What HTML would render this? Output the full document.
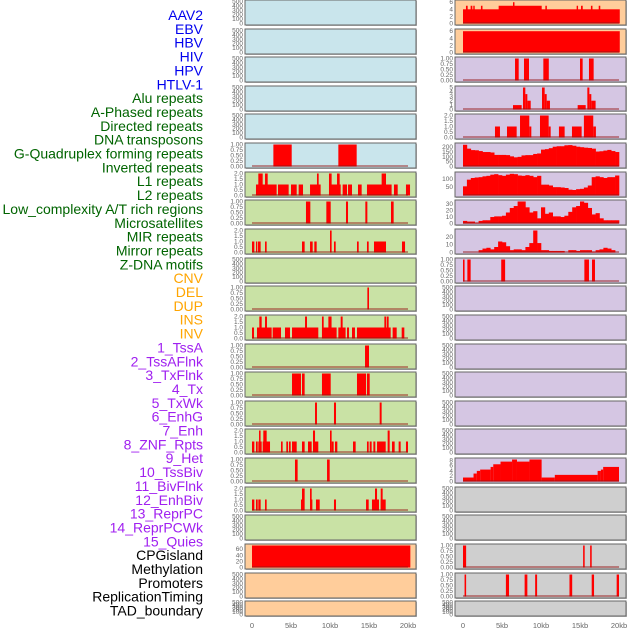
<!DOCTYPE html>
<html><head><meta charset="utf-8"><style>
body{margin:0;background:#fff}
svg{display:block;font-family:"Liberation Sans",sans-serif}
</style></head><body>
<svg id="chart" width="630" height="630" viewBox="0 0 630 630"></svg>
<script>
const trackLabels=["AAV2","EBV","HBV","HIV","HPV","HTLV-1","Alu repeats","A-Phased repeats","Directed repeats","DNA transposons","G-Quadruplex forming repeats","Inverted repeats","L1 repeats","L2 repeats","Low_complexity A/T rich regions","Microsatellites","MIR repeats","Mirror repeats","Z-DNA motifs","CNV","DEL","DUP","INS","INV","1_TssA","2_TssAFlnk","3_TxFlnk","4_Tx","5_TxWk","6_EnhG","7_Enh","8_ZNF_Rpts","9_Het","10_TssBiv","11_BivFlnk","12_EnhBiv","13_ReprPC","14_ReprPCWk","15_Quies","CPGisland","Methylation","Promoters","ReplicationTiming","TAD_boundary"];
const labelGroups=[6,13,5,15,5];
const xTickValues=[0,5,10,15,20];
const xTickLabels=["0","5kb","10kb","15kb","20kb"];

// interval data: [startKb, endKb, value]
const leftR5=[[2.74,5.09,1],[11.07,13.42,1]];
const leftR6=[[0.51,3.16,1],[0.81,1.37,2],[1.67,2.01,2],[3.33,4.7,1],[5.0,5.73,1],[5.98,6.54,1],[7.44,8.8,1],[8.33,8.55,2],[9.87,11.37,1],[9.87,10.21,2],[10.9,11.24,2],[11.62,12.18,1],[12.31,12.82,1],[13.59,14.06,1],[14.74,17.9,1],[16.62,17.18,2],[18.2,18.68,1],[19.74,20.26,1]];
const leftR7=[[6.92,7.48,1],[9.53,10.09,1],[12.05,12.31,1],[14.53,14.79,1],[17.82,18.16,1]];
const leftR8=[[0,0.3,1],[0.51,0.68,1],[0.77,1.11,1],[1.67,1.88,1],[6.41,6.75,1],[7.44,7.78,1],[7.99,8.29,1],[10.0,10.21,2],[10.51,10.73,1],[13.46,13.68,1],[14.74,14.96,1],[15.64,17.18,1],[19.23,19.62,1]];
const leftR10=[[14.79,15.0,1]];
const leftR11=[[0,0.26,1],[0.64,2.52,1],[0.94,1.24,2],[1.67,1.92,2],[2.65,3.72,1],[4.23,4.87,1],[5.13,8.5,1],[6.8,7.05,2],[8.97,10.85,1],[8.97,9.19,2],[9.79,10.2,2],[11.07,12.0,1],[11.37,11.62,2],[12.18,12.44,1],[12.82,13.2,1],[13.46,17.78,1],[16.97,17.18,2],[17.26,17.52,2],[18.03,18.55,1],[19.19,19.53,1]];
const leftR12=[[14.49,15.0,1]];
const leftR13=[[5.13,6.28,1],[6.41,6.75,1],[8.97,10.09,1],[13.46,14.62,1],[14.74,15.09,1]];
const leftR14=[[8.08,8.33,1],[10.51,10.77,1],[16.37,16.62,1]];
const leftR15=[[0,0.3,1],[0.51,0.73,1],[0.81,1.24,1],[1.37,2.31,1],[0.9,1.1,2],[1.45,1.88,2],[3.72,3.93,1],[4.4,4.62,1],[4.74,4.96,1],[5.13,5.73,1],[6.41,6.75,1],[7.18,7.65,1],[7.82,8.5,1],[7.82,8.08,2],[10.0,10.21,2],[10.21,10.47,1],[10.64,10.94,1],[12.95,13.29,1],[14.74,14.96,1],[15.09,15.34,1],[15.56,15.81,1],[16.03,17.14,1],[17.39,17.65,2],[17.95,18.29,1],[18.8,19.06,1],[19.74,20.0,1]];
const leftR16=[[5.51,5.85,1],[9.62,9.96,1]];
const leftR17=[[0,0.3,1],[0.51,0.73,1],[0.81,1.11,1],[1.67,1.88,1],[6.28,6.54,1],[6.41,6.75,2],[7.44,7.74,1],[7.44,7.65,2],[8.2,8.68,1],[10.51,10.77,1],[14.62,14.96,1],[15.38,16.28,1],[15.77,16.03,2],[16.5,17.14,1],[16.5,16.75,2]];
const leftR19=[[0,20.3,72]];
const rightR0=[[0,20.1,4],[4.57,10.09,5],[0.38,0.6,5],[0.98,1.2,5],[1.32,1.5,5],[2.3,2.5,5],[6.41,6.6,6],[10.56,10.75,5],[14.57,14.75,5],[15.13,15.35,5],[16.4,16.6,5],[17.4,17.6,5]];
const rightR1=[[0,20.1,6]];
const rightR2=[[6.67,7.14,1],[7.82,8.46,1],[10.3,11.0,1],[15.0,15.34,1],[16.15,16.75,1]];
const rightR3=[[6.41,7.52,1],[7.69,7.99,5],[7.99,8.25,3.5],[8.25,8.68,2],[10.13,10.47,5],[10.47,10.73,3.5],[10.73,11.15,2],[14.7,15.73,1],[15.94,16.2,5],[16.2,16.45,3.5],[16.45,17.0,2]];
const rightR4=[[4.1,4.74,1],[5.64,6.88,1],[7.31,8.5,2],[8.5,8.76,1],[9.87,10.98,2],[10.98,11.24,1],[12.3,13.03,1],[13.97,15.21,1],[15.5,16.7,2],[16.7,17.04,1]];
const rightR9=[[0,0.2,1],[0.56,0.98,1],[4.9,5.4,1],[15.56,16.15,1],[16.54,16.92,1]];
const rightR16=[[0,1.35,1.5],[1.35,1.77,3],[1.77,2.2,4],[2.2,3.54,4.5],[3.54,3.88,5.5],[3.88,4.81,6.5],[4.81,6.29,7.5],[6.29,6.92,8.3],[6.92,8.52,7.5],[8.52,10.08,8.3],[10.08,11.77,1.5],[11.77,17.26,2.5],[17.26,17.68,4],[17.68,17.97,4.5],[17.97,20,5.5]];
const rightR19=[[0,0.4,1],[15.4,15.6,1],[16.3,16.5,1]];
const rightR20=[[0.2,0.4,1],[5.5,5.9,1],[7.9,8.25,1],[9.25,9.5,1],[13.65,14.0,1],[16.5,16.8,1],[19.7,20,1]];

// histogram data: 0.5kb bins from 0 to 20kb
const rightR5Hist=[225,185,170,168,160,150,150,145,120,120,120,118,105,95,100,115,118,118,130,135,175,180,190,205,210,210,220,222,215,205,200,195,192,185,155,158,165,172,160,150];
const rightR6Hist=[55,95,105,108,110,115,118,125,128,122,118,125,130,128,120,118,122,118,110,118,65,65,60,50,50,48,45,35,33,38,40,48,60,110,115,110,105,110,110,120];
const rightR7Hist=[4,3,3,1,4,5,5,10,11,11,12,17,24,27,34,34,25,17,19,8,25,15,17,11,11,10,12,18,25,27,34,32,24,14,16,8,5,5,5,5];
const rightR8Hist=[0,0,0,0,3,5,6,4,7,14,13,8,3,4,4,3,7,12,28,12,3,3,2,2,2,2,0,3,3,2,3,3,3,1,3,4,6,5,3,0];

const tk500={vals:[0,100,200,300,400,500],labs:["0","100","200","300","400","500"],max:500};
const tk1={vals:[0,0.25,0.5,0.75,1],labs:["0.00","0.25","0.50","0.75","1.00"],max:1};
const tk2={vals:[0,0.5,1,1.5,2],labs:["0.0","0.5","1.0","1.5","2.0"],max:2};
const BLUE="#c9e5ec",GREEN="#c9e2a5",ORANGE="#ffcd9b",PURPLE="#d5c6e3",GRAY="#cfcfcf";

const panels=[
 ["left",0,BLUE,tk500,null,null],["left",1,BLUE,tk500,null,null],["left",2,BLUE,tk500,null,null],["left",3,BLUE,tk500,null,null],["left",4,BLUE,tk500,null,null],
 ["left",5,BLUE,tk1,leftR5,null],["left",6,GREEN,tk2,leftR6,null],["left",7,GREEN,tk1,leftR7,null],["left",8,GREEN,tk2,leftR8,null],["left",9,GREEN,tk500,null,null],
 ["left",10,GREEN,tk1,leftR10,null],["left",11,GREEN,tk2,leftR11,null],["left",12,GREEN,tk1,leftR12,null],["left",13,GREEN,tk1,leftR13,null],["left",14,GREEN,tk1,leftR14,null],
 ["left",15,GREEN,tk2,leftR15,null],["left",16,GREEN,tk1,leftR16,null],["left",17,GREEN,tk2,leftR17,null],["left",18,GREEN,tk500,null,null],
 ["left",19,ORANGE,{vals:[0,20,40,60],labs:["0","20","40","60"],max:72},leftR19,null],["left",20,ORANGE,tk500,null,null],["left",21,ORANGE,tk500,null,null],
 ["right",0,ORANGE,{vals:[0,2,4,6],labs:["0","2","4","6"],max:6.2},rightR0,null],["right",1,ORANGE,{vals:[0,2,4,6],labs:["0","2","4","6"],max:6.2},rightR1,null],
 ["right",2,PURPLE,tk1,rightR2,null],["right",3,PURPLE,{vals:[0,1,2,3,4,5],labs:["0","1","2","3","4","5"],max:5},rightR3,null],["right",4,PURPLE,tk2,rightR4,null],
 ["right",5,PURPLE,{vals:[0,50,100,150,200],labs:["0","50","100","150","200"],max:228},null,rightR5Hist],
 ["right",6,PURPLE,{vals:[50,100],labs:["50","100"],max:132},null,rightR6Hist],
 ["right",7,PURPLE,{vals:[0,10,20,30],labs:["0","10","20","30"],max:34},null,rightR7Hist],
 ["right",8,PURPLE,{vals:[0,10,20],labs:["0","10","20"],max:28},null,rightR8Hist],
 ["right",9,PURPLE,tk1,rightR9,null],
 ["right",10,PURPLE,tk500,null,null],["right",11,PURPLE,tk500,null,null],["right",12,PURPLE,tk500,null,null],["right",13,PURPLE,tk500,null,null],["right",14,PURPLE,tk500,null,null],["right",15,PURPLE,tk500,null,null],
 ["right",16,PURPLE,{vals:[0,2,4,6,8],labs:["0","2","4","6","8"],max:8.3},rightR16,null],
 ["right",17,GRAY,tk500,null,null],["right",18,GRAY,tk500,null,null],
 ["right",19,GRAY,tk1,rightR19,null],["right",20,GRAY,tk1,rightR20,null],["right",21,GRAY,tk500,null,null]
];

const NS="http://www.w3.org/2000/svg";
const svg=document.getElementById("chart");
function mk(tag,attrs,parent){const e=document.createElementNS(NS,tag);for(const k in attrs)e.setAttribute(k,attrs[k]);(parent||svg).appendChild(e);return e;}
const rowTops=[0,29,57,86,114,143,172,200,229,258,286,315,344,372,401,429,458,487,515,544,573,601];
const colGeom={left:{x:245,w:171,x0:252},right:{x:455,w:171,x0:463}};
const PXKB=7.8;
function xScale(col,kb){return colGeom[col].x0+kb*PXKB;}

// labels
const groupColors=["#0000ee","#006400","#ffa500","#a020f0","#000000"];
let gi=0,cnt=0;
trackLabels.forEach((lab,i)=>{
  while(cnt>=labelGroups[gi]){cnt-=labelGroups[gi];gi++;}
  const t=mk("text",{x:203,y:15+i*13.85+5,"text-anchor":"end","font-size":"14",fill:groupColors[gi]});
  
  
  t.textContent=lab;cnt++;
});

panels.forEach(p=>{
  const [col,row,bg,tk,bars,hist]=p;
  const g=colGeom[col];const top=rowTops[row];const h=row===21?15:25;
  const grp=mk("g",{});
  
  
  mk("rect",{x:g.x+1,y:top+1,width:g.w,height:h,fill:"#bbb"},grp);
  const r=mk("rect",{x:g.x,y:top,width:g.w,height:h,fill:bg,stroke:"#666","stroke-width":"1"},grp);
  
  
  const bottom=top+h-1.5,span=h-3;
  const yS=v=>bottom-v/tk.max*span;
  tk.vals.forEach((v,k)=>{
    const t=mk("text",{x:g.x-2,y:yS(v)+2,"text-anchor":"end","font-size":"6.5",fill:"#666"},grp);
    
    
    t.textContent=tk.labs[k];
  });
  if(bars){
    bars.forEach(b=>{
      const x1=xScale(col,b[0]),x2=xScale(col,b[1]);
      const rr=mk("rect",{x:x1,y:yS(b[2]),width:Math.max(1.2,x2-x1),height:bottom-yS(b[2]),fill:"#ff0000"},grp);
      
      
    });
  }
  if(hist){
    hist.forEach((v,k)=>{
      const x1=xScale(col,k*0.5),x2=xScale(col,(k+1)*0.5);
      const rr=mk("rect",{x:x1,y:yS(v),width:x2-x1+0.3,height:bottom-yS(v),fill:"#ff0000"},grp);
      
      
    });
  }
  if(bars||hist){
    mk("line",{x1:xScale(col,0),x2:xScale(col,20),y1:bottom-0.5,y2:bottom-0.5,stroke:"rgba(150,20,20,0.6)","stroke-width":"1.5"},grp);
  }
});

["left","right"].forEach(col=>{
  xTickValues.forEach((v,k)=>{
    const t=mk("text",{x:xScale(col,v),y:628,"text-anchor":"middle","font-size":"7.5",fill:"#666"});
    
    
    t.textContent=xTickLabels[k];
  });
});
</script>
</body></html>
